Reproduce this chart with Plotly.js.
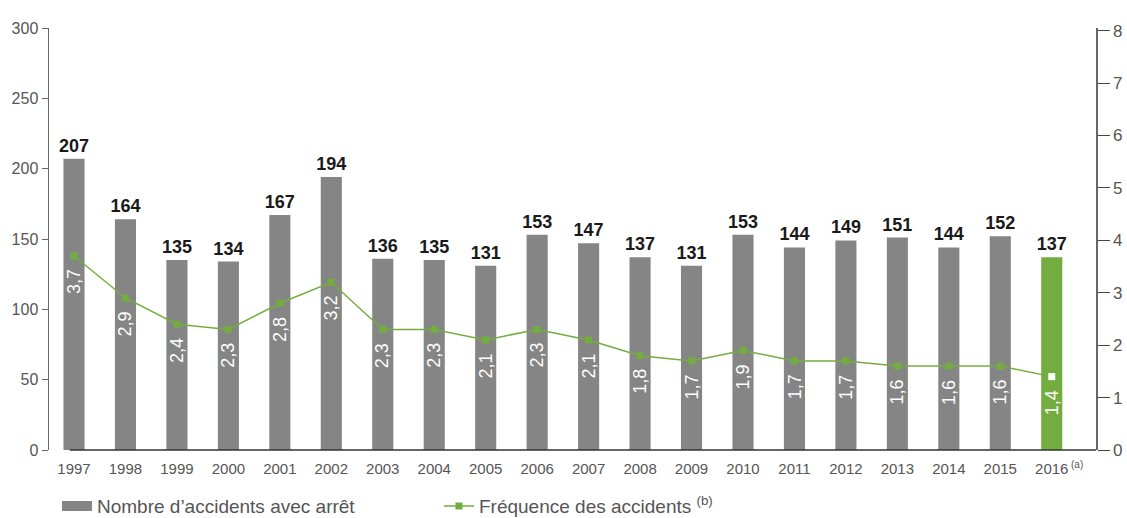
<!DOCTYPE html>
<html>
<head>
<meta charset="utf-8">
<script src="https://cdn.plot.ly/plotly-3.0.1.min.js"></script>
<style>html,body{margin:0;padding:0;background:#fff;}#chart{width:1127px;height:518px;}</style>
</head>
<body>
<div id="chart"></div>
<script>
const years = ['1997','1998','1999','2000','2001','2002','2003','2004','2005','2006','2007','2008','2009','2010','2011','2012','2013','2014','2015','2016'];
const accidents = [207,164,135,134,167,194,136,135,131,153,147,137,131,153,144,149,151,144,152,137];
const frequency = [3.7,2.9,2.4,2.3,2.8,3.2,2.3,2.3,2.1,2.3,2.1,1.8,1.7,1.9,1.7,1.7,1.6,1.6,1.6,1.4];
const leftTicks = [0,50,100,150,200,250,300];
const rightTicks = [0,1,2,3,4,5,6,7,8];
const barName = 'Nombre d\u2019accidents avec arrêt';
const lineName = 'Fréquence des accidents <sup>(b)</sup>';

const GRAY = '#858585';
const GREEN = '#74ad3f';
const TXT = '#555555';
const SANS = '"Liberation Sans", Arial, Helvetica, sans-serif';

const xpos = years.map((y, i) => i);
const last = years.length - 1;
const barColors = years.map((y, i) => i === last ? GREEN : GRAY);
const markerColors = years.map((y, i) => i === last ? '#ffffff' : GREEN);

const bars = {
  type: 'bar',
  x: xpos,
  y: accidents,
  name: barName,
  showlegend: false,
  marker: {color: barColors},
  width: 0.41,
  text: accidents.map(String),
  textposition: 'outside',
  constraintext: 'none',
  cliponaxis: false,
  textfont: {family: SANS, size: 18, weight: 'bold', color: '#1a1a1a'},
  hoverinfo: 'skip'
};

// legend entry for the bars (wide grey swatch as in the reference)
const barLegend = {
  type: 'scatter', mode: 'lines',
  x: [null], y: [null],
  name: barName,
  line: {color: GRAY, width: 12},
  hoverinfo: 'skip'
};

const line = {
  type: 'scatter',
  mode: 'lines+markers',
  x: xpos,
  y: frequency,
  yaxis: 'y2',
  name: lineName,
  line: {color: GREEN, width: 1.5},
  marker: {symbol: 'square', size: 7, color: markerColors},
  cliponaxis: false,
  hoverinfo: 'skip'
};

const annotations = xpos.map(i => ({
  x: i, y: frequency[i], xref: 'x', yref: 'y2',
  text: String(frequency[i]).replace('.', ','),
  showarrow: false, textangle: -90,
  xanchor: 'center', yanchor: 'middle', yshift: -26,
  font: {family: SANS, size: 18, color: '#ffffff'}
}));
annotations.push({
  x: last, y: 0, xref: 'x', yref: 'paper',
  text: '(a)', showarrow: false, xanchor: 'left', yanchor: 'top',
  xshift: 17, yshift: -7,
  font: {family: SANS, size: 10, color: TXT}
});

const layout = {
  width: 1127, height: 518,
  margin: {l: 49, r: 31, t: 28, b: 68, autoexpand: false},
  paper_bgcolor: '#fff', plot_bgcolor: '#fff',
  showlegend: true,
  legend: {
    orientation: 'h', xref: 'paper', x: 0.0076, xanchor: 'left',
    yref: 'paper', y: -0.133, yanchor: 'middle',
    font: {family: SANS, size: 19, color: TXT},
    entrywidth: 337, entrywidthmode: 'pixels',
    traceorder: 'normal'
  },
  xaxis: {
    range: [-0.486, 19.86],
    tickvals: xpos, ticktext: years,
    showline: false, ticks: 'outside', ticklen: 5, tickcolor: 'rgba(0,0,0,0)',
    showgrid: false, zeroline: false,
    tickfont: {family: SANS, size: 15, color: TXT},
    fixedrange: true
  },
  yaxis: {
    range: [0, 300],
    tickvals: leftTicks,
    showline: true, linecolor: '#666', linewidth: 1.5,
    ticks: 'outside', ticklen: 6, tickcolor: '#666', tickwidth: 1,
    showgrid: false, zeroline: false,
    tickfont: {family: SANS, size: 16, color: TXT},
    fixedrange: true
  },
  yaxis2: {
    range: [0, 8.05], overlaying: 'y', side: 'right',
    tickvals: rightTicks,
    showline: true, linecolor: '#666', linewidth: 1.5,
    ticks: 'outside', ticklen: 12, tickcolor: '#444', tickwidth: 1,
    showgrid: false, zeroline: false,
    tickfont: {family: SANS, size: 17, color: TXT},
    fixedrange: true
  },
  shapes: [{
    type: 'line', xref: 'paper', yref: 'paper',
    x0: 0.02, x1: 1, y0: 0, y1: 0,
    line: {color: '#333', width: 1.5}
  }],
  annotations: annotations
};

Plotly.newPlot('chart', [barLegend, bars, line], layout, {displayModeBar: false, staticPlot: true});
</script>
</body>
</html>
